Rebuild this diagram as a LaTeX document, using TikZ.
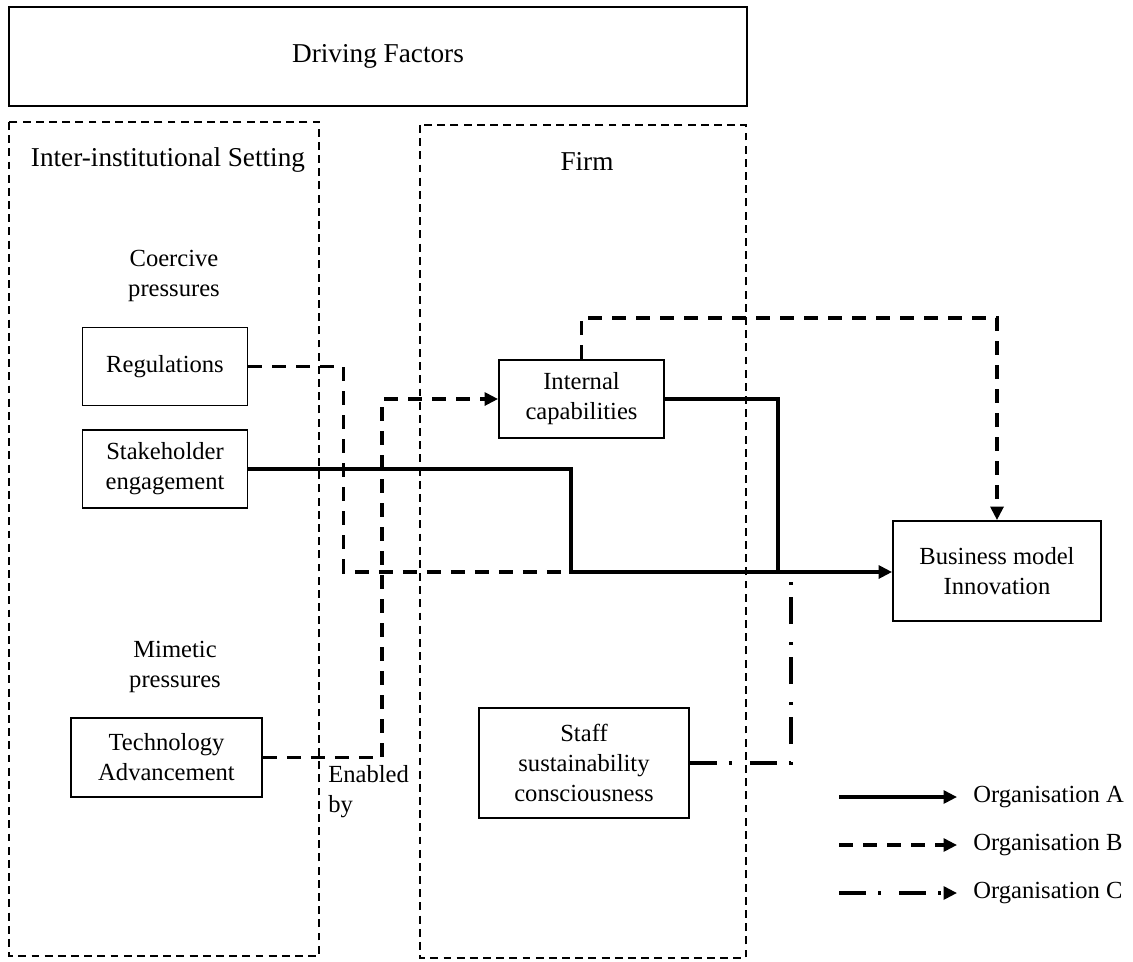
\documentclass[tikz,border=0pt]{standalone}
\usepackage{fontspec}
\setmainfont{Liberation Serif}
\usepackage{tikz}
\usetikzlibrary{arrows.meta,positioning}

\begin{document}
\begin{tikzpicture}[
    x=0.02cm, y=-0.02cm,
    font=\fontsize{14}{17}\selectfont,
    head/.style={font=\fontsize{15.5}{18}\selectfont},
    box/.style={draw, line width=1.1pt, minimum width=3.3cm, minimum height=1.56cm, align=center, inner sep=0pt},
    frame/.style={draw, line width=0.9pt, dash pattern=on 4.5pt off 3pt},
    lbl/.style={align=center, inner sep=0pt},
    orgA/.style={line width=1.8pt},
    orgB/.style={line width=1.8pt, dash pattern=on 0.28cm off 0.2cm},
    orgC/.style={line width=1.8pt, dash pattern=on 0.54cm off 0.24cm on 0.06cm off 0.36cm},
    tip/.style={-{Triangle[length=2.7mm,width=2.6mm]}},
]
\useasboundingbox (0,0) rectangle (1133,961);

% Header
\node[box, head, line width=1.3pt, minimum width=14.76cm, minimum height=1.98cm] (drv) at (378,56.5) {Driving Factors};

% Frames
\draw[frame] (9,122) rectangle (319,956);
\draw[frame] (420,125) rectangle (746,958);
\node[lbl, head] (inst) at (168,160) {Inter-institutional Setting};
\node[lbl, head] (firm) at (587,161) {Firm};

% Inter-institutional setting
\node[lbl] (coer) at (174,276) {Coercive\\pressures};
\node[box] (reg) at (165,366.5) {Regulations};
\node[box, minimum height=1.56cm] (stk) at (165,469) {Stakeholder\\engagement};
\node[lbl] (mim) at (175,667) {Mimetic\\pressures};
\node[box, minimum width=3.82cm, minimum height=1.58cm] (tech) at (166.5,757.5) {Technology\\Advancement};
\node[lbl, align=left, anchor=north west] (enab) at (328,765) {Enabled\\by};

% Firm
\node[box] (intcap) at (581.5,399) {Internal\\capabilities};
\node[box, minimum width=4.2cm, minimum height=2.2cm] (staff) at (584,763) {Staff\\sustainability\\consciousness};

% Outcome
\node[box, minimum width=4.16cm, minimum height=2cm] (bmi) at (997,571) {Business model\\Innovation};

% Junctions
\coordinate (jn) at (571,572);
\coordinate (mrg) at (778,572);
\coordinate (cup) at (791,577);

% Organisation B
\draw[orgB] (reg.east) -- ++(95,0) |- (jn);
\draw[orgB, tip] (tech.east) -- ++(119,0) |- (intcap.west);
\draw[orgB, tip] (intcap.north) -- ++(0,-41) -| (bmi.north);

% Organisation A
\draw[orgA, tip] (stk.east) -| (jn) -- (jn -| bmi.west);
\draw[orgA] (intcap.east) -| (mrg);

% Organisation C
\draw[orgC] (staff.east) -| (cup);

% Legend
\node[lbl, anchor=west] (legA) at (973,797) {Organisation A};
\node[lbl, anchor=west] (legB) at (973,845) {Organisation B};
\node[lbl, anchor=west] (legC) at (973,893) {Organisation C};
\draw[orgA, tip] ([xshift=-2.68cm]legA.west) -- ([xshift=-0.32cm]legA.west);
\draw[orgB, tip] ([xshift=-2.68cm]legB.west) -- ([xshift=-0.32cm]legB.west);
\draw[orgC, tip] ([xshift=-2.68cm]legC.west) -- ([xshift=-0.32cm]legC.west);

\end{tikzpicture}
\end{document}
